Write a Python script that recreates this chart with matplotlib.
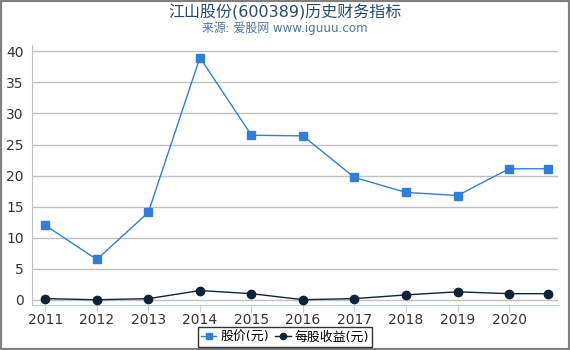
import numpy as np
import matplotlib
matplotlib.use("Agg")
import matplotlib.pyplot as plt
from matplotlib.patches import Rectangle

plt.rcParams['font.family'] = ['DejaVu Sans', 'Noto Sans CJK SC']

# 报告期 (最后一个是2020年三季度)
periods = [2011, 2012, 2013, 2014, 2015, 2016, 2017, 2018, 2019, 2020, 2020.75]
year_ticks = [2011, 2012, 2013, 2014, 2015, 2016, 2017, 2018, 2019, 2020]
price = [12.0, 6.5, 14.1, 39.0, 26.5, 26.4, 19.7, 17.3, 16.8, 21.1, 21.1]
eps = [0.2, 0.02, 0.2, 1.5, 1.0, 0.03, 0.2, 0.8, 1.3, 1.0, 1.0]

fig = plt.figure(figsize=(5.7, 3.5), dpi=100)
ax = fig.add_axes([0.056, 0.129, 0.923, 0.742])

ax.plot(periods, price, color='#2f7ed8', lw=1, marker='s', ms=6, label='股价(元)', zorder=3)
ax.plot(periods, eps, color='#0d233a', lw=1, marker='o', ms=6, label='每股收益(元)', zorder=3)

ax.set_xlim(2010.74, 2020.95)
ax.set_ylim(-0.8, 41)
ax.set_xticks(year_ticks)
ax.set_yticks(range(0, 45, 5))
ax.grid(axis='y', color='#c0c0c0', lw=1)
ax.set_axisbelow(True)
for s in ['top', 'right']:
    ax.spines[s].set_visible(False)
ax.spines['bottom'].set_color('#c0d0e0')
ax.spines['left'].set_color('#c0c0c0')
ax.tick_params(axis='both', labelsize=10, colors='#333333')
ax.tick_params(axis='y', length=0, pad=6)
ax.tick_params(axis='x', length=5, color='#c0d0e0', pad=1)

fig.text(0.5, 0.965, '江山股份(600389)历史财务指标', ha='center', va='center',
         fontsize=11.5, color='#274b6d')
fig.text(0.5, 0.918, '来源: 爱股网 www.iguuu.com', ha='center', va='center',
         fontsize=8.6, color='#4d759e')

leg = fig.legend(loc='center', bbox_to_anchor=(0.5, 0.037), ncol=2, fontsize=9.3,
                 frameon=True, fancybox=False, handlelength=1.2, handletextpad=0.3,
                 columnspacing=0.5, borderpad=0.25, markerscale=0.75)
leg.get_frame().set_edgecolor('black')
leg.get_frame().set_linewidth(1)

fig.patches.append(Rectangle((0, 0), 1, 1, transform=fig.transFigure, fill=False,
                             edgecolor='#808080', lw=3))

fig.savefig('out.png', dpi=100)
